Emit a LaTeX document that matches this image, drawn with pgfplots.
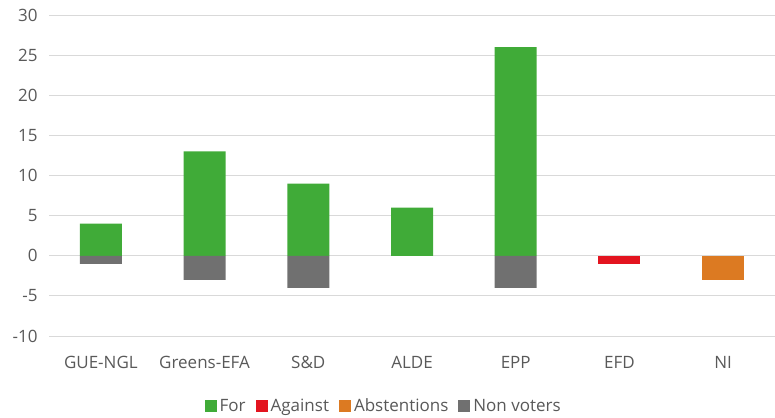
\documentclass[border=0pt]{standalone}
\usepackage{pgfplots}
\pgfplotsset{compat=1.18}
\usepackage{fontspec}
\setmainfont{Open Sans}
\definecolor{cfor}{RGB}{64,171,56}
\definecolor{cagainst}{RGB}{227,20,31}
\definecolor{cabst}{RGB}{220,122,34}
\definecolor{cnon}{RGB}{112,112,112}
\definecolor{cgrid}{RGB}{217,217,217}
\definecolor{ctext}{RGB}{89,89,89}
\begin{document}
\begin{tikzpicture}
\begin{axis}[
    scale only axis,
    width=726bp, height=321bp,
    xmin=-0.5, xmax=6.5,
    ymin=-10, ymax=30,
    ytick={-10,-5,0,5,10,15,20,25,30},
    xtick={0,1,2,3,4,5,6},
    xticklabels={GUE-NGL,Greens-EFA,S\&D,ALDE,EPP,EFD,NI},
    axis line style={draw=none},
    major tick length=0pt,
    ymajorgrids=true,
    grid style={cgrid, line width=1pt},
    tick label style={font=\fontsize{17bp}{19bp}\selectfont, text=ctext},
    /pgf/number format/assume math mode=true,
    yticklabel style={xshift=-8bp},
    xticklabel style={yshift=-17bp},
    ybar, bar width=42bp, bar shift=0pt,
    legend style={draw=none, at={(0.461,-0.218)}, anchor=center,
        legend columns=-1, font=\fontsize{17bp}{19bp}\selectfont, text=ctext,
        /tikz/every odd column/.append style={column sep=1bp},
        /tikz/every even column/.append style={column sep=8bp}},
    legend image code/.code={\fill[#1] (0bp,-6bp) rectangle (12bp,6bp);},
]
\addplot[fill=cfor, draw=none] coordinates {(0,4)(1,13)(2,9)(3,6)(4,26)};
\addplot[fill=cagainst, draw=none] coordinates {(5,-1)};
\addplot[fill=cabst, draw=none] coordinates {(6,-3)};
\addplot[fill=cnon, draw=none] coordinates {(0,-1)(1,-3)(2,-4)(4,-4)};
\legend{For,Against,Abstentions,Non voters}
\end{axis}
\pgfresetboundingbox
\path (-49bp,-82bp) rectangle (726bp,336bp);
\end{tikzpicture}
\end{document}
